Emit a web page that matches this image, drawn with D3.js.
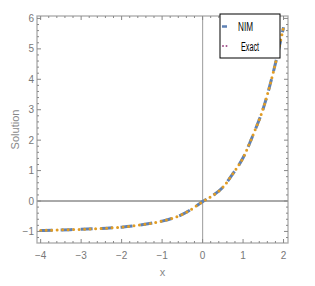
<!DOCTYPE html>
<html lang="en">
<head>
<meta charset="UTF-8">
<title>Solution</title>
<script src="https://d3js.org/d3.v7.min.js"></script>
<style>
  body { margin: 0; background: #fff; }
  svg { display: block; font-family: "Liberation Sans", Arial, sans-serif; }
  .tick-label { font-size: 10px; fill: #777; }
  .axis-title { font-size: 11px; fill: #888; }
  .legend-text { font-size: 12px; fill: #000; }
</style>
</head>
<body>
<svg id="chart" width="315" height="286"></svg>
<script>
// values
const xValues = [-4, -3.5, -3, -2.5, -2, -1.5, -1, -0.75, -0.5, -0.25, 0, 0.25, 0.5, 0.75, 1, 1.25, 1.5, 1.75, 2];
const nimValues = [-0.97, -0.95, -0.93, -0.9, -0.86, -0.78, -0.66, -0.57, -0.44, -0.25, -0.02, 0.18, 0.45, 0.9, 1.42, 2.18, 3.05, 4.25, 5.71];
const exactValues = [-0.97, -0.95, -0.93, -0.9, -0.86, -0.78, -0.66, -0.57, -0.44, -0.25, -0.02, 0.18, 0.45, 0.9, 1.42, 2.18, 3.05, 4.25, 5.71];
const xTicks = [-4, -3, -2, -1, 0, 1, 2];
const yTicks = [-1, 0, 1, 2, 3, 4, 5, 6];
const seriesNames = ["NIM", "Exact"];

const svg = d3.select("#chart");
const fLeft = 37, fRight = 288, fTop = 16, fBottom = 243;

const x = d3.scaleLinear().domain([-4.09, 2.11]).range([fLeft, fRight]);
const y = d3.scaleLinear().domain([-1.38, 6.08]).range([fBottom, fTop]);

const fmt = d => d < 0 ? "\u2212" + Math.abs(d) : String(d);

// zero lines
svg.append("line")
  .attr("x1", x(0)).attr("x2", x(0)).attr("y1", fTop).attr("y2", fBottom)
  .attr("stroke", "#aaa").attr("stroke-width", 1.2);
svg.append("line")
  .attr("x1", fLeft).attr("x2", fRight).attr("y1", y(0)).attr("y2", y(0))
  .attr("stroke", "#555").attr("stroke-width", 1);

// curves
const nimData = xValues.map((d, i) => [d, nimValues[i]]);
const exactData = xValues.map((d, i) => [d, exactValues[i]]);
const line = d3.line().x(d => x(d[0])).y(d => y(d[1])).curve(d3.curveMonotoneX);

svg.append("path")
  .datum(nimData)
  .attr("d", line)
  .attr("fill", "none")
  .attr("stroke", "#5e81b5")
  .attr("stroke-width", 3)
  .attr("stroke-dasharray", "12,8");

svg.append("path")
  .datum(exactData)
  .attr("d", line)
  .attr("fill", "none")
  .attr("stroke", "#e19c24")
  .attr("stroke-width", 3)
  .attr("stroke-linecap", "round")
  .attr("stroke-dasharray", "0,5.5");

// frame
svg.append("rect")
  .attr("x", fLeft).attr("y", fTop)
  .attr("width", fRight - fLeft).attr("height", fBottom - fTop)
  .attr("fill", "none").attr("stroke", "#aaa").attr("stroke-width", 1.3);

// ticks (pointing inward on all four sides)
const minorX = d3.range(-4, 2.01, 0.2);
const minorY = d3.range(-1.2, 6.01, 0.2);
const tickG = svg.append("g").attr("stroke", "#888").attr("stroke-width", 1);

minorX.forEach(v => {
  const major = xTicks.some(t => Math.abs(t - v) < 1e-6);
  const len = major ? 4 : 2;
  tickG.append("line").attr("x1", x(v)).attr("x2", x(v)).attr("y1", fBottom).attr("y2", fBottom - len);
  tickG.append("line").attr("x1", x(v)).attr("x2", x(v)).attr("y1", fTop).attr("y2", fTop + len);
});
minorY.forEach(v => {
  const major = yTicks.some(t => Math.abs(t - v) < 1e-6);
  const len = major ? 4 : 2;
  tickG.append("line").attr("y1", y(v)).attr("y2", y(v)).attr("x1", fLeft).attr("x2", fLeft + len);
  tickG.append("line").attr("y1", y(v)).attr("y2", y(v)).attr("x1", fRight).attr("x2", fRight - len);
});

// tick labels
svg.selectAll(".xl").data(xTicks).enter().append("text")
  .attr("class", "tick-label")
  .attr("x", d => x(d)).attr("y", 259)
  .attr("text-anchor", "middle")
  .text(fmt);
svg.selectAll(".yl").data(yTicks).enter().append("text")
  .attr("class", "tick-label")
  .attr("x", 34).attr("y", d => y(d) + 3.5)
  .attr("text-anchor", "end")
  .text(fmt);

// axis titles
svg.append("text").attr("class", "axis-title")
  .attr("x", (fLeft + fRight) / 2).attr("y", 276)
  .attr("text-anchor", "middle").text("x");
svg.append("text").attr("class", "axis-title")
  .attr("transform", "translate(19," + ((fTop + fBottom) / 2) + ") rotate(-90)")
  .attr("text-anchor", "middle").text("Solution");

// legend
const lg = svg.append("g");
lg.append("rect")
  .attr("x", 220).attr("y", 14).attr("width", 60).attr("height", 44)
  .attr("fill", "#fff").attr("stroke", "#000").attr("stroke-width", 1);
lg.append("line")
  .attr("x1", 222).attr("x2", 227).attr("y1", 26.5).attr("y2", 26.5)
  .attr("stroke", "#5e81b5").attr("stroke-width", 2.5);
lg.append("line")
  .attr("x1", 223).attr("x2", 227).attr("y1", 46).attr("y2", 46)
  .attr("stroke", "#a0508a").attr("stroke-width", 2)
  .attr("stroke-linecap", "round").attr("stroke-dasharray", "0,3.5");
lg.append("text").attr("class", "legend-text")
  .attr("x", 238).attr("y", 31)
  .attr("textLength", 15).attr("lengthAdjust", "spacingAndGlyphs")
  .text(seriesNames[0]);
lg.append("text").attr("class", "legend-text")
  .attr("x", 241).attr("y", 51)
  .attr("textLength", 18).attr("lengthAdjust", "spacingAndGlyphs")
  .text(seriesNames[1]);
</script>
</body>
</html>
